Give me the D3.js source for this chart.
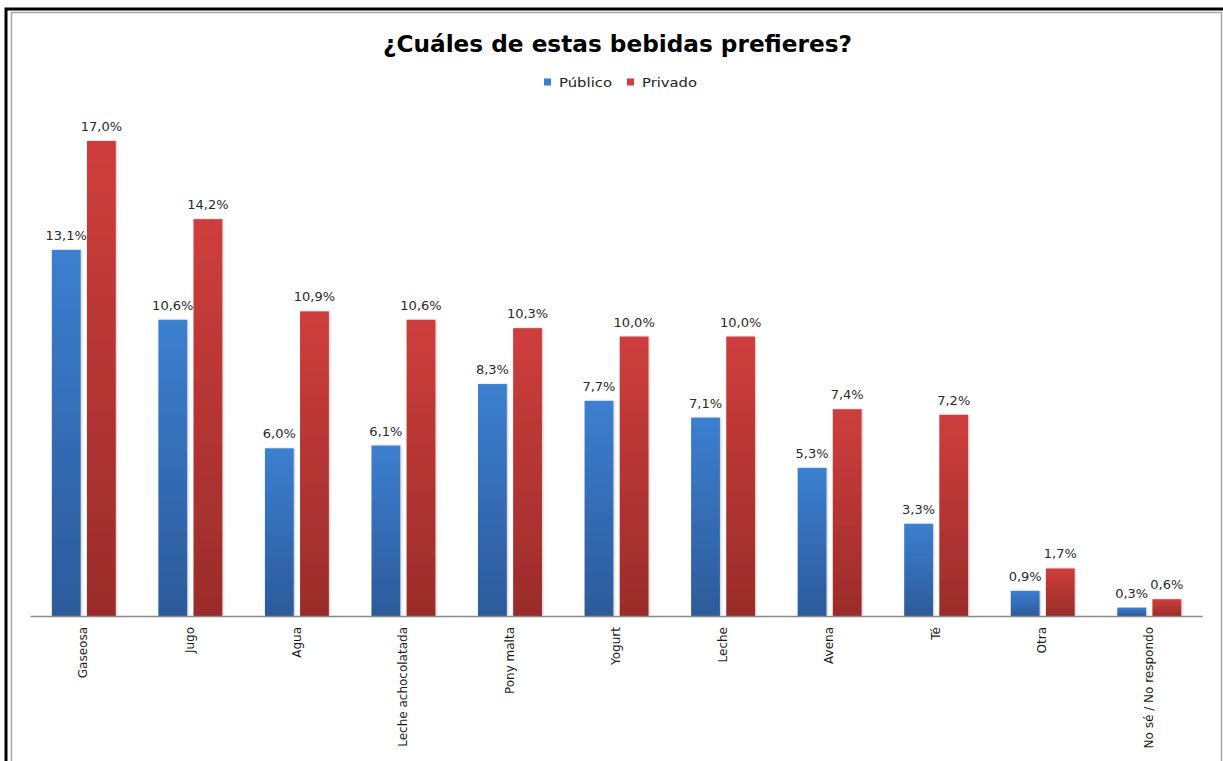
<!DOCTYPE html>
<html>
<head>
<meta charset="utf-8">
<script src="https://cdn.jsdelivr.net/npm/d3@7"></script>
<style>
  html, body { margin: 0; padding: 0; background: #fff; }
  svg { display: block; }
</style>
</head>
<body>
<svg id="chart" width="1223" height="761"></svg>
<script>
const categories = ["Gaseosa", "Jugo", "Agua", "Leche achocolatada", "Pony malta", "Yogurt", "Leche", "Avena", "Té", "Otra", "No sé / No respondo"];
const seriesNames = ["Público", "Privado"];
const publico = [13.1, 10.6, 6.0, 6.1, 8.3, 7.7, 7.1, 5.3, 3.3, 0.9, 0.3];
const privado = [17.0, 14.2, 10.9, 10.6, 10.3, 10.0, 10.0, 7.4, 7.2, 1.7, 0.6];
const titleText = "¿Cuáles de estas bebidas prefieres?";

const data = categories.map((c, i) => ({ cat: c, values: [
  { key: "Público", v: publico[i] },
  { key: "Privado", v: privado[i] }
]}));

const svg = d3.select("#chart");
const fontFam = "'DejaVu Sans', sans-serif";

// defs: gradients + shadow
const defs = svg.append("defs");
const grads = {
  "Público": ["#3c7fd0", "#2c5a9a"],
  "Privado": ["#ce3e3c", "#9a2c2a"]
};
Object.entries(grads).forEach(([k, [top, bot]], i) => {
  const g = defs.append("linearGradient").attr("id", "g" + i)
    .attr("x1", 0).attr("y1", 0).attr("x2", 0).attr("y2", 1);
  g.append("stop").attr("offset", "0%").attr("stop-color", top);
  g.append("stop").attr("offset", "100%").attr("stop-color", bot);
});
const f = defs.append("filter").attr("id", "shadow").attr("x", "-20%").attr("y", "-5%").attr("width", "140%").attr("height", "110%");
f.append("feDropShadow").attr("dx", 1).attr("dy", 0).attr("stdDeviation", 1.2)
  .attr("flood-color", "#000").attr("flood-opacity", 0.22);

// frames
svg.append("rect").attr("x", 6).attr("y", 9).attr("width", 1300).attr("height", 900)
  .attr("fill", "none").attr("stroke", "#000").attr("stroke-width", 3);
svg.append("rect").attr("x", 11.5).attr("y", 12.5).attr("width", 1210).attr("height", 900)
  .attr("fill", "none").attr("stroke", "#a6a6a6").attr("stroke-width", 1.5);

// scales
const x0 = d3.scaleBand().domain(categories).range([30, 1202]).paddingInner(0).paddingOuter(0);
const bw = x0.bandwidth();
const x1 = d3.scaleBand().domain(seriesNames).range([bw * 0.205, bw * 0.805]).paddingInner(0.18).paddingOuter(0);
const y = d3.scaleLinear().domain([0, 18]).range([616, 113]);

// bars
const groups = svg.append("g").selectAll("g").data(data).join("g")
  .attr("transform", d => `translate(${x0(d.cat)},0)`);

groups.selectAll("rect").data(d => d.values).join("rect")
  .attr("x", d => x1(d.key))
  .attr("y", d => y(d.v))
  .attr("width", x1.bandwidth())
  .attr("height", d => y(0) - y(d.v))
  .attr("fill", d => `url(#g${seriesNames.indexOf(d.key)})`)
  .attr("filter", "url(#shadow)");

groups.selectAll("text").data(d => d.values).join("text")
  .attr("x", d => x1(d.key) + x1.bandwidth() / 2)
  .attr("y", d => y(d.v) - 10)
  .attr("text-anchor", "middle")
  .attr("font-family", fontFam)
  .attr("font-size", 13)
  .attr("fill", "#2a2a2a")
  .text(d => d.v.toFixed(1).replace(".", ",") + "%");

// x axis
const xAxis = svg.append("g").attr("transform", `translate(0,${y(0)})`)
  .call(d3.axisBottom(x0).tickSize(0).tickPadding(0));
xAxis.select(".domain").attr("stroke", "#8c8c8c").attr("stroke-width", 1.5);
xAxis.selectAll(".tick text")
  .attr("font-family", fontFam)
  .attr("font-size", 12)
  .attr("fill", "#1a1a1a")
  .attr("text-anchor", "end")
  .attr("dy", "0.35em")
  .attr("transform", "translate(0,11) rotate(-90)")
  .attr("y", 0)
  .attr("x", 0);

// title
svg.append("text")
  .attr("x", 617.5).attr("y", 52)
  .attr("text-anchor", "middle")
  .attr("font-family", fontFam)
  .attr("font-weight", "bold")
  .attr("font-size", 23)
  .attr("fill", "#000")
  .attr("textLength", 469)
  .attr("lengthAdjust", "spacingAndGlyphs")
  .text(titleText);

// legend
const legendX = [544, 627];
const legendW = [53, 55];
const legend = svg.append("g").selectAll("g").data(seriesNames).join("g")
  .attr("transform", (d, i) => `translate(${legendX[i]},82)`);
legend.append("rect").attr("x", 0).attr("y", -3.5).attr("width", 7).attr("height", 7)
  .attr("fill", (d, i) => grads[d][0]);
legend.append("text").attr("x", 15).attr("y", 4.5)
  .attr("font-family", fontFam).attr("font-size", 12.5).attr("fill", "#222")
  .attr("textLength", (d, i) => legendW[i]).attr("lengthAdjust", "spacingAndGlyphs")
  .text(d => d);
</script>
</body>
</html>
